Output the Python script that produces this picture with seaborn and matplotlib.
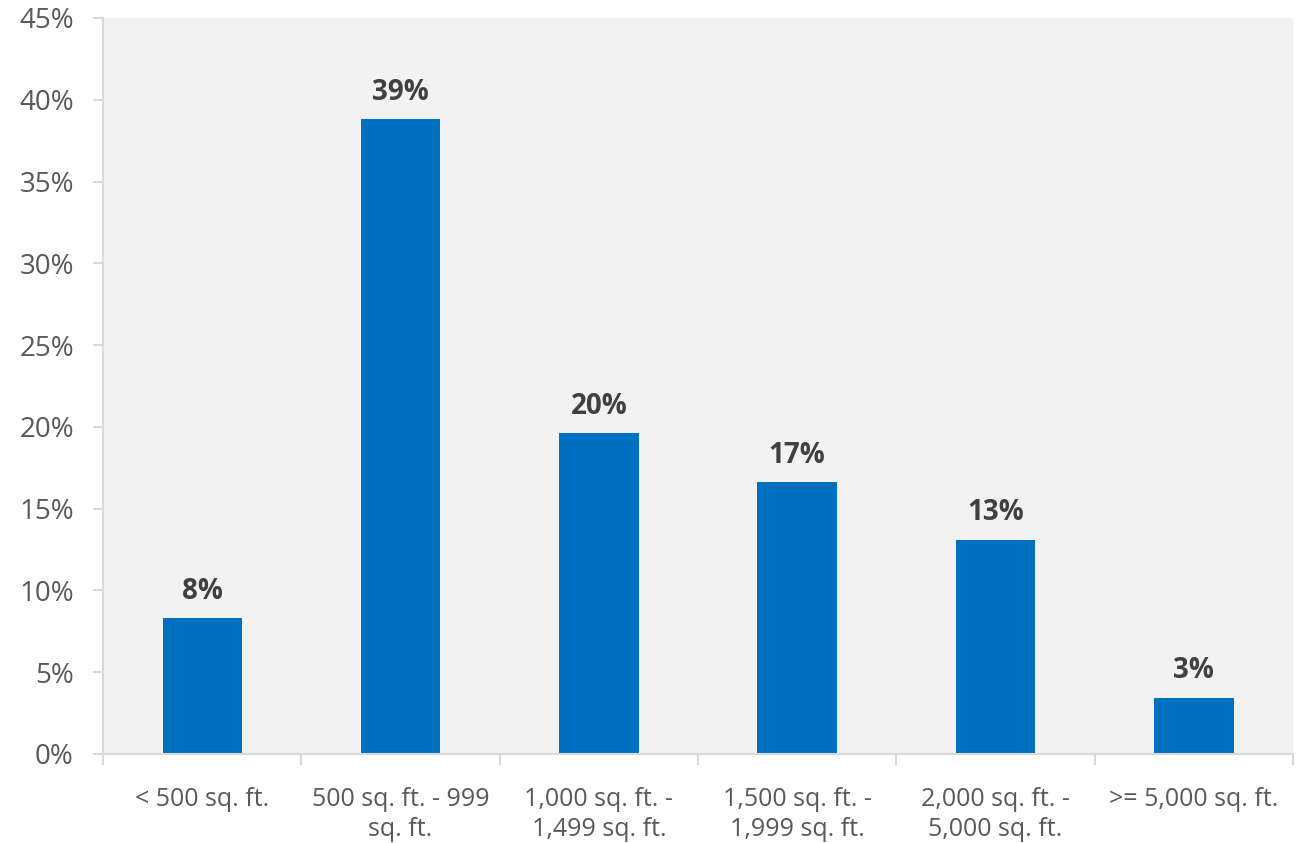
import matplotlib
matplotlib.use("Agg")
import matplotlib.pyplot as plt
import seaborn as sns
import pandas as pd
from matplotlib.ticker import FixedLocator

categories = ["< 500 sq. ft.", "500 sq. ft. - 999\nsq. ft.", "1,000 sq. ft. -\n1,499 sq. ft.",
              "1,500 sq. ft. -\n1,999 sq. ft.", "2,000 sq. ft. -\n5,000 sq. ft.", ">= 5,000 sq. ft."]
values = [8.3, 38.8, 19.6, 16.6, 13.1, 3.45]
y_ticks = [0, 5, 10, 15, 20, 25, 30, 35, 40, 45]

sns.set_theme(style="white")
plt.rcParams['font.family'] = ['Open Sans', 'DejaVu Sans']

df = pd.DataFrame({"cat": categories, "val": values})

fig = plt.figure(figsize=(13.06, 8.43), dpi=100)
ax = fig.add_axes([103/1306, 89/843, 1190/1306, 736/843])
sns.barplot(data=df, x="cat", y="val", color="#0070C0", width=0.4, ax=ax,
            saturation=1, linewidth=0)
ax.set_facecolor("#F2F2F2")
ax.set_xlim(-0.5, len(categories) - 0.5)
ax.set_ylim(0, 45)
ax.set_yticks(y_ticks)
ax.set_yticklabels([f"{t}%" for t in y_ticks])
ax.set_xlabel("")
ax.set_ylabel("")

for s in ["top", "right"]:
    ax.spines[s].set_visible(False)
for s in ["left", "bottom"]:
    ax.spines[s].set_color("#D9D9D9")
    ax.spines[s].set_linewidth(1.5)

ax.tick_params(axis="y", which="major", length=7, width=1.5, color="#D9D9D9",
               labelsize=20, labelcolor="#595959", pad=14, left=True)
ax.tick_params(axis="x", which="major", length=0, labelsize=18, labelcolor="#595959", pad=24)
ax.xaxis.set_minor_locator(FixedLocator([i - 0.5 for i in range(len(categories) + 1)]))
ax.tick_params(axis="x", which="minor", length=8, width=1.5, color="#D9D9D9", bottom=True)
for lbl in ax.get_xticklabels():
    lbl.set_linespacing(1.25)

for c in ax.containers:
    ax.bar_label(c, fmt="%.0f%%", padding=9, fontsize=20, fontweight="bold", color="#404040")

fig.savefig("out.png", dpi=100, facecolor="white")
